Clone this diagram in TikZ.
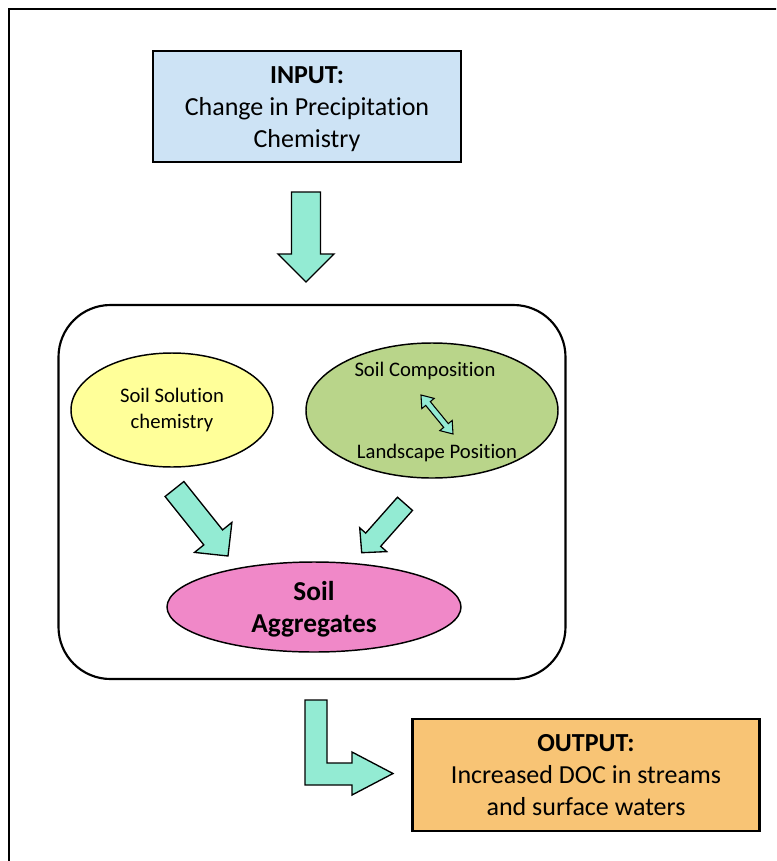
\documentclass[tikz,border=0pt]{standalone}
\usepackage{fontspec}
\setmainfont[Ligatures=NoCommon]{Carlito}
\usetikzlibrary{shapes.geometric}
\definecolor{inblue}{HTML}{CDE3F5}
\definecolor{outorange}{HTML}{F8C475}
\definecolor{solyellow}{HTML}{FFFF99}
\definecolor{compgreen}{HTML}{B9D58A}
\definecolor{aggpink}{HTML}{F088C8}
\definecolor{aqua}{HTML}{93EBD3}
\begin{document}
\begin{tikzpicture}[x=0.75pt,y=-0.75pt,
  boxstyle/.style={draw=black, line width=1.6pt, rectangle, inner sep=0pt, align=center,
    font=\fontsize{19.5}{24}\selectfont},
  ellstyle/.style={draw=black, line width=1.1pt, ellipse, inner sep=0pt, align=center},
  blockarrow/.style={draw=black, line width=1pt, fill=aqua, line join=miter},
  smalltext/.style={font=\fontsize{15.5}{19.5}\selectfont, align=center, inner sep=0pt}]
\useasboundingbox (0,0) rectangle (776,861);
\clip (0,0) rectangle (776,861);
\draw[line width=2pt] (9,9) rectangle (900,1000);

\node[boxstyle, fill=inblue, minimum width=231pt, minimum height=83.25pt] (input) at (307,106.5) {};
\node[align=center, inner sep=0pt, font=\fontsize{19.5}{24}\selectfont] (inputtxt) at (307,109.5)
  {\textbf{INPUT:}\\Change in Precipitation\\Chemistry};

\node[draw=black, line width=1.6pt, rounded corners=39pt, minimum width=380.25pt, minimum height=280.5pt] (frame) at (312,492) {};

\node[ellstyle, fill=solyellow, minimum width=151.5pt, minimum height=85.5pt, smalltext] (sol) at (172,410)
  {Soil Solution\\chemistry};

\node[ellstyle, fill=compgreen, minimum width=189pt, minimum height=101.25pt] (comp) at (432,410.5) {};
\node[smalltext] (comptxt) at (425,371) {Soil Composition};
\node[smalltext] (landtxt) at (437,453) {Landscape Position};

\node[ellstyle, fill=aggpink, minimum width=220.5pt, minimum height=67.5pt] (agg) at (314,607) {};
\node[align=center, inner sep=0pt, font=\fontsize{20.5}{24}\selectfont\bfseries] (aggtxt) at (314,609) {Soil\\Aggregates};

\node[boxstyle, fill=outorange, minimum width=260.25pt, minimum height=84pt] (output) at (586,775)
  {\textbf{OUTPUT:}\\Increased DOC in streams\\and surface waters};

% down arrow
\draw[blockarrow] (291.5,192) -- (320.5,192) -- (320.5,254) -- (334,254) -- (306,282)
  -- (278,254) -- (291.5,254) -- cycle;

% left diagonal arrow
\draw[blockarrow] (183.9,481.5) -- (222.6,529.9) -- (231.9,522.4) -- (228,556)
  -- (194.5,552.4) -- (203.8,544.9) -- (165.1,496.5) -- cycle;

% right diagonal arrow
\draw[blockarrow] (412.5,510.4) -- (380.7,546.3) -- (386.7,551.6) -- (361.7,552.7)
  -- (359.7,527.8) -- (365.7,533.1) -- (397.5,497.2) -- cycle;

% double arrow
\draw[blockarrow, line width=0.8pt] (421,395) -- (434.2,398.4) -- (430.3,401.6) -- (448.3,423.6)
  -- (452.2,420.4) -- (453,434) -- (439.8,430.6) -- (443.7,427.4) -- (425.7,405.4)
  -- (421.8,408.6) -- cycle;

% L arrow
\draw[blockarrow] (305,700) -- (327,700) -- (327,763) -- (352,763) -- (352,752)
  -- (393,773.5) -- (352,795) -- (352,785) -- (305,785) -- cycle;
\end{tikzpicture}
\end{document}
